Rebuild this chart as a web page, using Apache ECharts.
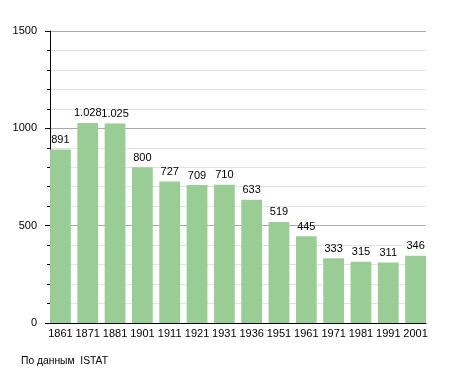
<!DOCTYPE html>
<html>
<head>
<meta charset="utf-8">
<script src="https://cdn.jsdelivr.net/npm/echarts@6/dist/echarts.min.js"></script>
<style>html,body{margin:0;padding:0;background:#fff}#c{width:455px;height:373px}</style>
</head>
<body>
<div id="c"></div>
<script>
const years = ['1861','1871','1881','1901','1911','1921','1931','1936','1951','1961','1971','1981','1991','2001'];
const population = [891,1028,1025,800,727,709,710,633,519,445,333,315,311,346];
const yTicks = [0,500,1000,1500];
const caption = 'По данным  ISTAT';

const font = 'Liberation Sans, Arial, sans-serif';
const chart = echarts.init(document.getElementById('c'), null, {renderer:'canvas'});
const fmt = v => v >= 1000 ? Math.floor(v/1000) + '.' + String(v%1000).padStart(3,'0') : String(v);
chart.setOption({
  animation:false,
  graphic:[{type:'text', left:21, top:356, style:{text:caption, font:'10.3px ' + font, fill:'#000'}}],
  grid:[
    {left:50, top:31, width:376, height:292},
    {left:46.75, top:31, width:382.5, height:292}
  ],
  xAxis:[
    {gridIndex:0, type:'category', data:years, axisLabel:{show:false}, axisTick:{show:false},
     axisLine:{lineStyle:{color:'#000', width:1}}, z:5},
    {gridIndex:1, type:'category', data:years, axisLine:{show:false}, axisTick:{show:false},
     axisLabel:{color:'#000', fontSize:11, fontFamily:font, margin:5, interval:0}}
  ],
  yAxis:[
    {gridIndex:0, type:'value', min:0, max:1500, interval:500,
     axisLine:{show:true, lineStyle:{color:'#000'}},
     axisTick:{show:true, length:5, lineStyle:{color:'#000'}},
     minorTick:{show:true, splitNumber:5, length:3, lineStyle:{color:'#000'}},
     splitLine:{show:true, lineStyle:{color:'#aaaaaa', width:1}},
     minorSplitLine:{show:true, lineStyle:{color:'#e2e2e2', width:1}},
     axisLabel:{color:'#000', fontSize:11, fontFamily:font, margin:13,
       customValues: yTicks, formatter: v => String(v)}},
    {gridIndex:1, type:'value', min:0, max:1500, show:false, splitLine:{show:false}}
  ],
  series:[{
    type:'bar', xAxisIndex:1, yAxisIndex:1, data:population, barWidth:20.8,
    itemStyle:{color:'#9acd96'},
    label:{show:true, position:'top', distance:4, color:'#000', fontSize:11, fontFamily:font,
      formatter: p => fmt(p.value)},
    z:2
  }]
});
</script>
</body>
</html>
